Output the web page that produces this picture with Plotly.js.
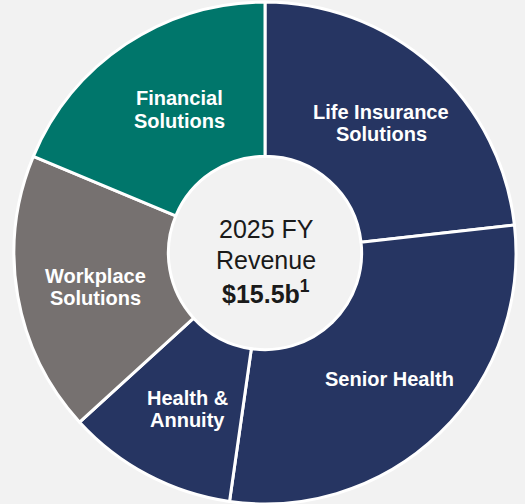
<!DOCTYPE html>
<html>
<head>
<meta charset="utf-8">
<script src="https://cdn.plot.ly/plotly-3.0.1.min.js"></script>
<style>html,body{margin:0;padding:0;background:#f2f2f2;}#chart{width:525px;height:504px;}</style>
</head>
<body>
<div id="chart"></div>
<script>
// Data ($ billions, 2025 FY revenue by segment), clockwise from 12 o'clock
const segments = ["Life Insurance Solutions", "Senior Health", "Health & Annuity", "Workplace Solutions", "Financial Solutions"];
const labelLines = ["Life Insurance<br>Solutions", "Senior Health", "Health &<br>Annuity", "Workplace<br>Solutions", "Financial<br>Solutions"];
const revenue = [3.6, 4.5, 1.7, 2.8, 2.9];
const centerLines = ["2025 FY", "Revenue", "<b>$15.5b<sup>1</sup></b>"];

const NAVY = "#263562", TEAL = "#00766b", GRAY = "#767170";
const sliceColors = [NAVY, NAVY, NAVY, GRAY, TEAL];

const W = 525, H = 504;
const px = (x) => x / W;
const py = (y) => 1 - y / H;

// label placement (pixels: x centre, y of first line, line gap) — layout only
const labelPx = [[381, 112.5], [389, 379], [187, 397.5], [95, 275.5], [179, 98.5]];
const LINE_GAP = 22;
const centerPx = [[266, 229], [266, 260], [266, 292]];

const annotations = [];
labelLines.forEach((t, i) => {
  t.split("<br>").forEach((line, j) => {
    annotations.push({
      text: "<b>" + line + "</b>", x: px(labelPx[i][0]), y: py(labelPx[i][1] + j * LINE_GAP),
      xref: "paper", yref: "paper", showarrow: false, xanchor: "center", yanchor: "middle",
      font: {family: "Liberation Sans, Arial, sans-serif", size: 20, color: "#ffffff"}
    });
  });
});
centerLines.forEach((t, i) => {
  annotations.push({
    text: t, x: px(centerPx[i][0]), y: py(centerPx[i][1]),
    xref: "paper", yref: "paper", showarrow: false, xanchor: "center", yanchor: "middle",
    font: {family: "Liberation Sans, Arial, sans-serif", size: 25, color: "#1a1a1a"}
  });
});

const trace = {
  type: "pie",
  labels: segments,
  values: revenue,
  sort: false,
  direction: "clockwise",
  rotation: 0,
  hole: 0.385,
  textinfo: "none",
  hoverinfo: "label+value",
  marker: {colors: sliceColors, line: {color: "#ffffff", width: 3}},
  domain: {x: [px(265 - 251), px(265 + 251)], y: [py(253 + 251), py(253 - 251)]},
  showlegend: false
};

Plotly.newPlot("chart", [trace], {
  width: W, height: H,
  margin: {l: 0, r: 0, t: 0, b: 0},
  paper_bgcolor: "#f2f2f2",
  plot_bgcolor: "#f2f2f2",
  showlegend: false,
  annotations: annotations
}, {displayModeBar: false, staticPlot: true});
</script>
</body>
</html>
